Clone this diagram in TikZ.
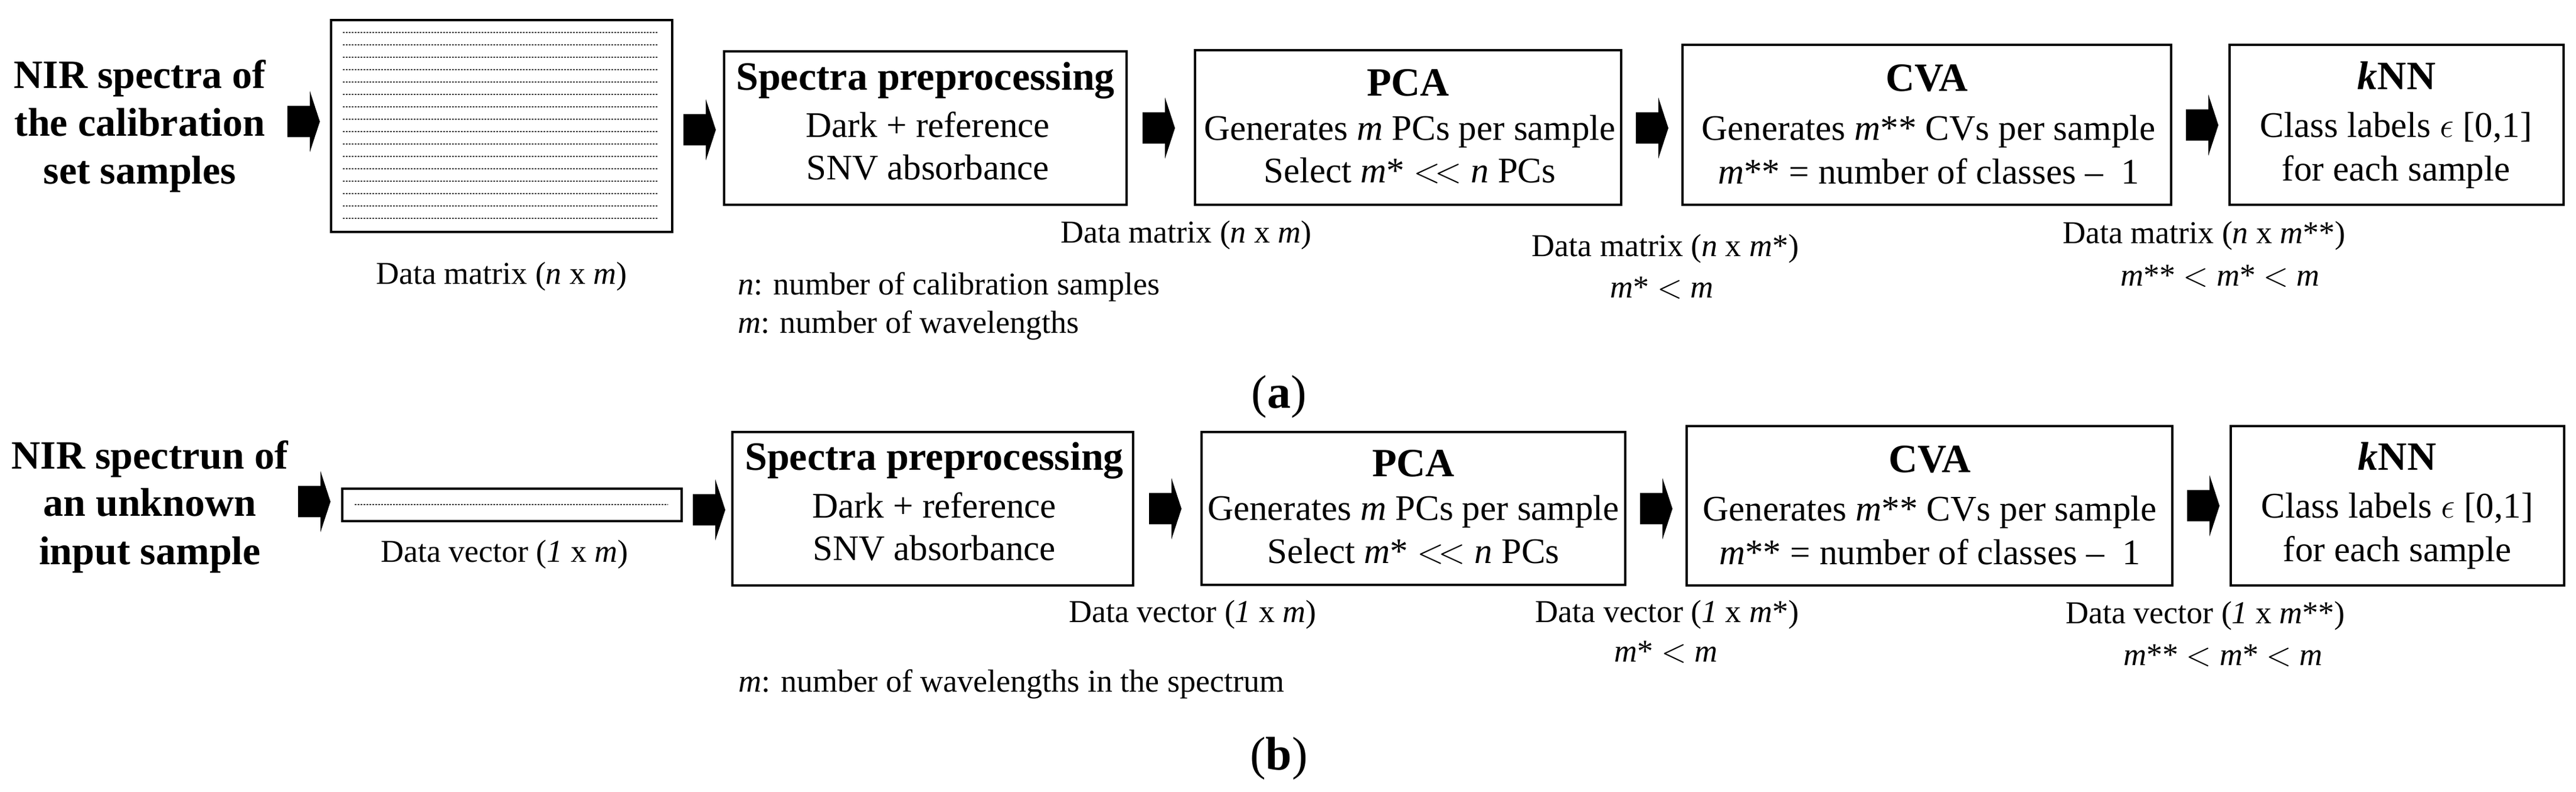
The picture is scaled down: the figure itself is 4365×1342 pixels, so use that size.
\documentclass[tikz,border=0pt]{standalone}
\usepackage{fontspec}
\setmainfont{Liberation Serif}
\usetikzlibrary{fit}
\begin{document}
\begin{tikzpicture}[x=0.2pt,y=-0.2pt,
  lbl/.style={anchor=base, inner sep=0, font=\fontsize{10.8}{13}\selectfont},
  lblw/.style={anchor=base west, inner sep=0, font=\fontsize{10.8}{13}\selectfont},
  body/.style={anchor=base, inner sep=0, font=\fontsize{12.2}{14}\selectfont},
  ttl/.style={anchor=base, inner sep=0, font=\fontsize{13.6}{16}\selectfont\bfseries},
  figcap/.style={anchor=base, inner sep=0, font=\fontsize{16}{19}\selectfont},
  box/.style={draw, line width=0.9pt, inner sep=0pt},
  dots/.style={black!75, line width=0.55pt, dash pattern=on 0.5pt off 0.5pt}]
\newcommand{\blkarrow}[2]{\fill[black] (#1,#2) ++(0,-26.5) -- ++(38,0) -- ++(0,-25.5) -- ++(17,52) -- ++(-17,52) -- ++(0,-25.5) -- ++(-38,0) -- cycle;}
\useasboundingbox (0,0) rectangle (4365,1342);
\fill[white] (0,0) rectangle (4365,1342);

% ---------------- (a) ----------------
\node[ttl] (nir1a) at (237,150) {NIR spectra of};
\node[ttl] (nir1b) at (237,231) {the calibration};
\node[ttl] (nir1c) at (237,312) {set samples};

\node[box, fit={(561,34) (1139,393)}] (mat) {};
\foreach \i in {0,...,15} \draw[dots] (581,{55+21*\i}) -- (1116,{55+21*\i});
\node[lbl] (matl) at (850,482) {Data matrix (\textit{n} x \textit{m})};

\node[box, fit={(1227,87) (1909,347)}] (pp1) {};
\node[ttl] (pp1t) at (1568,153) {Spectra preprocessing};
\node[body] (pp1a) at (1572,233) {Dark + reference};
\node[body] (pp1b) at (1572,305) {SNV absorbance};
\node[lblw] (n1) at (1249,500) {\textit{n}: number of calibration samples};
\node[lblw] (m1) at (1249,565) {\textit{m}: number of wavelengths};

\node[box, fit={(2025,85) (2747,347)}] (pca1) {};
\node[ttl] (pca1t) at (2386,163) {PCA};
\node[body] (pca1a) at (2389,238) {Generates \textit{m} PCs per sample};
\node[body] (pca1b) at (2389,310) {Select \textit{m}* $<\!<$ \textit{n} PCs};
\node[lbl] (pca1l) at (2010,412) {Data matrix (\textit{n} x \textit{m})};

\node[box, fit={(2851,76) (3679,347)}] (cva1) {};
\node[ttl] (cva1t) at (3265,155) {CVA};
\node[body] (cva1a) at (3268,238) {Generates \textit{m}** CVs per sample};
\node[body] (cva1b) at (3268,312) {\textit{m}** = number of classes –\ \ 1};
\node[lbl] (cva1l) at (2822,435) {Data matrix (\textit{n} x \textit{m}*)};
\node[lbl] (cva1m) at (2816,505) {\textit{m}* $<$ \textit{m}};

\node[box, fit={(3778,76) (4344,347)}] (knn1) {};
\node[ttl] (knn1t) at (4061,152) {\textit{k}NN};
\node[body] (knn1a) at (4060,233) {Class labels $\epsilon$ [0,1]};
\node[body] (knn1b) at (4060,307) {for each sample};
\node[lbl] (knn1l) at (3735,413) {Data matrix (\textit{n} x \textit{m}**)};
\node[lbl] (knn1m) at (3762,485) {\textit{m}** $<$ \textit{m}* $<$ \textit{m}};

\blkarrow{487}{206}
\blkarrow{1158}{220}
\blkarrow{1936}{217}
\blkarrow{2772}{217}
\blkarrow{3704}{212}

\node[figcap] (capa) at (2167,692) {(\textbf{a})};

% ---------------- (b) ----------------
\node[ttl] (nir2a) at (254,795) {NIR spectrun of};
\node[ttl] (nir2b) at (254,875) {an unknown};
\node[ttl] (nir2c) at (254,957) {input sample};

\node[box, fit={(580,828) (1155,883)}] (vec) {};
\draw[dots] (601,855) -- (1132,855);
\node[lbl] (vecl) at (855,953) {Data vector (\textit{1} x \textit{m})};

\node[box, fit={(1241,732) (1920,992)}] (pp2) {};
\node[ttl] (pp2t) at (1583,797) {Spectra preprocessing};
\node[body] (pp2a) at (1583,878) {Dark + reference};
\node[body] (pp2b) at (1583,950) {SNV absorbance};
\node[lblw] (m2) at (1250,1173) {\textit{m}: number of wavelengths in the spectrum};

\node[box, fit={(2036,732) (2754,991)}] (pca2) {};
\node[ttl] (pca2t) at (2395,808) {PCA};
\node[body] (pca2a) at (2395,882) {Generates \textit{m} PCs per sample};
\node[body] (pca2b) at (2395,955) {Select \textit{m}* $<\!<$ \textit{n} PCs};
\node[lbl] (pca2l) at (2021,1055) {Data vector (\textit{1} x \textit{m})};

\node[box, fit={(2858,722) (3681,992)}] (cva2) {};
\node[ttl] (cva2t) at (3270,801) {CVA};
\node[body] (cva2a) at (3270,883) {Generates \textit{m}** CVs per sample};
\node[body] (cva2b) at (3270,957) {\textit{m}** = number of classes –\ \ 1};
\node[lbl] (cva2l) at (2825,1055) {Data vector (\textit{1} x \textit{m}*)};
\node[lbl] (cva2m) at (2823,1122) {\textit{m}* $<$ \textit{m}};

\node[box, fit={(3780,722) (4345,992)}] (knn2) {};
\node[ttl] (knn2t) at (4062,797) {\textit{k}NN};
\node[body] (knn2a) at (4062,878) {Class labels $\epsilon$ [0,1]};
\node[body] (knn2b) at (4062,952) {for each sample};
\node[lbl] (knn2l) at (3737,1057) {Data vector (\textit{1} x \textit{m}**)};
\node[lbl] (knn2m) at (3767,1128) {\textit{m}** $<$ \textit{m}* $<$ \textit{m}};

\blkarrow{505}{850}
\blkarrow{1174}{864}
\blkarrow{1947}{862}
\blkarrow{2779}{862}
\blkarrow{3706}{857}

\node[figcap] (capb) at (2167,1305) {(\textbf{b})};
\end{tikzpicture}
\end{document}
